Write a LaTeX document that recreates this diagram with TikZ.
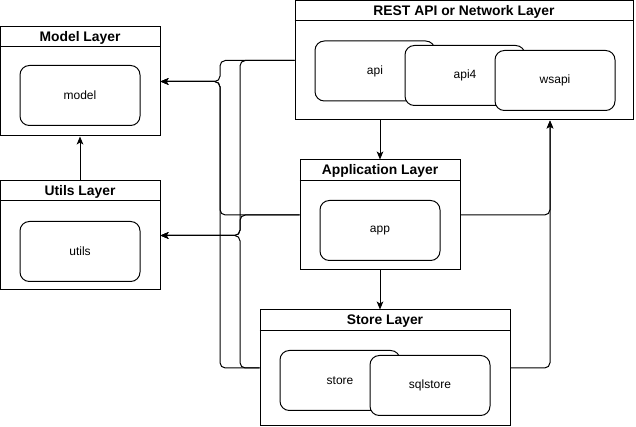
\documentclass[tikz,border=0pt]{standalone}
\usepackage{fontspec}
\setmainfont{Liberation Sans}
\usetikzlibrary{arrows.meta,calc}
\begin{document}
\begin{tikzpicture}[x=0.75pt,y=-0.75pt,
  every node/.style={font=\fontsize{9pt}{11pt}\selectfont, inner sep=0pt},
  layer/.style={draw, line width=0.75pt, rectangle},
  title/.style={font=\fontsize{10.4pt}{12pt}\selectfont\bfseries},
  item/.style={draw, fill=white, line width=0.75pt, rounded corners=7pt, minimum width=90pt, minimum height=45pt},
  conn/.style={draw, line width=0.75pt, rounded corners=4pt},
  arr/.style={conn, -{Stealth[length=6pt,width=5pt,inset=1.5pt]}}
]
\useasboundingbox (0,0) rectangle (636,427);
% layers
\node[layer, minimum width=120pt, minimum height=81.75pt] (modelL) at (80,81.5) {};
\node[layer, minimum width=120pt, minimum height=81.75pt] (utilsL) at (80,235.5) {};
\node[layer, minimum width=253.5pt, minimum height=89.25pt] (restL) at (464,60.5) {};
\node[layer, minimum width=120pt, minimum height=82.5pt] (appL) at (380,215) {};
\node[layer, minimum width=187.5pt, minimum height=87pt] (storeL) at (385,368) {};
% header lines
\draw[line width=0.75pt] (modelL.west |- 0,47) -- (modelL.east |- 0,47);
\draw[line width=0.75pt] (utilsL.west |- 0,201) -- (utilsL.east |- 0,201);
\draw[line width=0.75pt] (restL.west |- 0,21) -- (restL.east |- 0,21);
\draw[line width=0.75pt] (appL.west |- 0,181) -- (appL.east |- 0,181);
\draw[line width=0.75pt] (storeL.west |- 0,331) -- (storeL.east |- 0,331);
% titles
\node[title] (tModel) at (80,37.5) {Model Layer};
\node[title] (tUtils) at (80,191.5) {Utils Layer};
\node[title] (tRest) at (464,11.5) {REST API or Network Layer};
\node[title] (tApp) at (380,171) {Application Layer};
\node[title] (tStore) at (385,321) {Store Layer};
% items
\node[item] (model) at (80,95.5) {model};
\node[item] (utils) at (80,251.5) {utils};
\node[item] (api) at (375,71) {api};
\node[item] (api4) at (465,75.5) {api4};
\node[item] (wsapi) at (555,80.5) {wsapi};
\node[item] (app) at (380,230.5) {app};
\node[item] (store) at (340,380.5) {store};
\node[item] (sqlstore) at (430,385.5) {sqlstore};
% routing coordinates
\coordinate (lx1) at (220,0);
\coordinate (lx2) at (240,0);
\coordinate (rx) at (550,0);
% vertical arrows
\draw[arr] (utilsL.north) -- (modelL.south);
\draw[arr] (appL.north |- restL.south) -- (appL.north);
\draw[arr] (appL.south) -- (appL.south |- storeL.north);
% left connectors
\draw[arr] (restL.west) -| (lx1 |- modelL.east) -- (modelL.east);
\draw[arr] (restL.west) -| (lx2 |- utilsL.east) -- (utilsL.east);
\draw[arr] (appL.west) -| (lx1 |- modelL.east) -- (modelL.east);
\draw[arr] (appL.west) -| (lx2 |- utilsL.east) -- (utilsL.east);
\draw[arr] (storeL.west) -| (lx1 |- modelL.east) -- (modelL.east);
\draw[arr] (storeL.west) -| (lx2 |- utilsL.east) -- (utilsL.east);
% right connectors
\draw[arr] (appL.east) -| (rx |- restL.south);
\draw[arr] (storeL.east) -| (rx |- restL.south);
\end{tikzpicture}
\end{document}
